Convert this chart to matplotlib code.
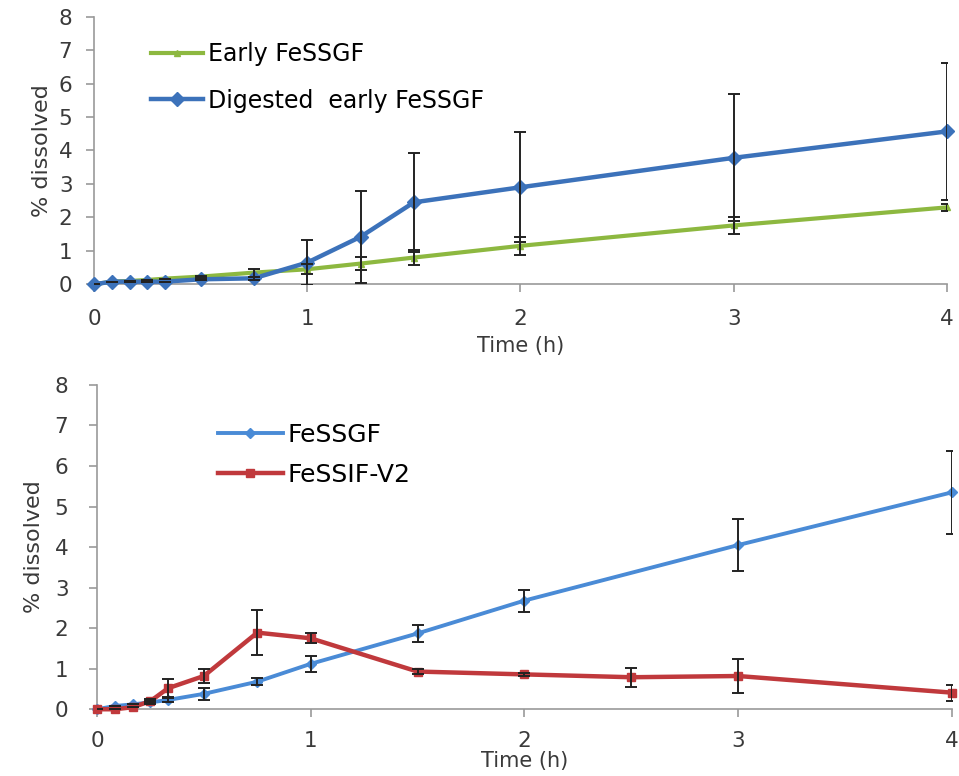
import matplotlib
matplotlib.use("Agg")
import matplotlib.pyplot as plt

plt.rcParams['font.family'] = ['DejaVu Sans']

# ---- Top panel data ----
t_top = [0, 0.083, 0.167, 0.25, 0.333, 0.5, 0.75, 1, 1.25, 1.5, 2, 3, 4]
early = [0, 0.08, 0.10, 0.13, 0.17, 0.23, 0.35, 0.45, 0.62, 0.80, 1.15, 1.76, 2.30]
early_err = [0, 0, 0, 0, 0, 0.02, 0.12, 0.15, 0.20, 0.22, 0.27, 0.25, 0.10]
digested = [0, 0.08, 0.08, 0.08, 0.08, 0.15, 0.18, 0.65, 1.42, 2.45, 2.90, 3.78, 4.57]
digested_err = [0, 0, 0, 0, 0, 0.02, 0.05, 0.68, 1.37, 1.48, 1.65, 1.90, 2.05]

# ---- Bottom panel data ----
t_gf = [0, 0.083, 0.167, 0.25, 0.333, 0.5, 0.75, 1, 1.5, 2, 3, 4]
fessgf = [0, 0.08, 0.12, 0.17, 0.23, 0.38, 0.68, 1.12, 1.87, 2.68, 4.05, 5.35]
fessgf_err = [0, 0, 0, 0.03, 0.05, 0.15, 0.08, 0.20, 0.20, 0.27, 0.65, 1.02]
t_if = [0, 0.083, 0.167, 0.25, 0.333, 0.5, 0.75, 1, 1.5, 2, 2.5, 3, 4]
fessif = [0, 0.0, 0.05, 0.20, 0.52, 0.82, 1.89, 1.75, 0.93, 0.86, 0.79, 0.82, 0.41]
fessif_err = [0, 0, 0, 0.05, 0.22, 0.17, 0.56, 0.12, 0.06, 0.03, 0.24, 0.43, 0.20]

xticks = [0, 1, 2, 3, 4]
yticks = [0, 1, 2, 3, 4, 5, 6, 7, 8]

fig = plt.figure(figsize=(9.59, 7.76), dpi=100)
ax1 = fig.add_axes([0.098, 0.6336, 0.8895, 0.345])
ax2 = fig.add_axes([0.1011, 0.086, 0.8915, 0.418])

green = '#8DB840'
blue1 = '#3C72BA'
blue2 = '#4A8BD6'
red = '#C0393C'
spine_c = '#999999'
txt_c = '#3a3a3a'

def style(ax, xpad, ypad, ylabpad):
    ax.set_xlim(0, 4)
    ax.set_ylim(0, 8)
    ax.set_xticks(xticks)
    ax.set_yticks(yticks)
    for s in ['top', 'right']:
        ax.spines[s].set_visible(False)
    for s in ['left', 'bottom']:
        ax.spines[s].set_color(spine_c)
        ax.spines[s].set_linewidth(1.2)
    ax.tick_params(axis='both', colors=spine_c, labelcolor=txt_c,
                   labelsize=15.5, length=5.5, width=1.2, direction='out')
    ax.tick_params(axis='x', pad=xpad)
    ax.tick_params(axis='y', pad=ypad)
    ax.set_ylabel('% dissolved', fontsize=16, color=txt_c, labelpad=ylabpad)

# Top panel
ax1.plot(t_top, early, color=green, lw=3.0, marker='^', ms=4,
         label='Early FeSSGF', clip_on=False, zorder=3)
ax1.errorbar(t_top, early, yerr=early_err, fmt='none', ecolor='#222222',
             elinewidth=1.4, capsize=4, capthick=1.4, zorder=4)
ax1.plot(t_top, digested, color=blue1, lw=3.2, marker='D', ms=7,
         label='Digested  early FeSSGF', clip_on=False, zorder=3)
ax1.errorbar(t_top, digested, yerr=digested_err, fmt='none', ecolor='#222222',
             elinewidth=1.4, capsize=4, capthick=1.4, zorder=4)
style(ax1, xpad=12, ypad=10, ylabpad=5)
ax1.set_xlabel('Time (h)', fontsize=15, color=txt_c, labelpad=5)
ax1.legend(loc='upper left', bbox_to_anchor=(0.045, 0.975), frameon=False,
           fontsize=17, handlelength=2.2, handletextpad=0.2,
           labelspacing=0.95, borderpad=0.3)

# Bottom panel
ax2.plot(t_gf, fessgf, color=blue2, lw=2.8, marker='D', ms=5,
         label='FeSSGF', clip_on=False, zorder=3)
ax2.errorbar(t_gf, fessgf, yerr=fessgf_err, fmt='none', ecolor='#222222',
             elinewidth=1.4, capsize=4, capthick=1.4, zorder=4)
ax2.plot(t_if, fessif, color=red, lw=3.2, marker='s', ms=5.5,
         label='FeSSIF-V2', clip_on=False, zorder=3)
ax2.errorbar(t_if, fessif, yerr=fessif_err, fmt='none', ecolor='#222222',
             elinewidth=1.4, capsize=4, capthick=1.4, zorder=4)
style(ax2, xpad=10, ypad=15, ylabpad=8)
ax2.set_xlabel('Time (h)', fontsize=15, color=txt_c, labelpad=0)
ax2.legend(loc='upper left', bbox_to_anchor=(0.118, 0.945), frameon=False,
           fontsize=18, handlelength=2.6, handletextpad=0.2,
           labelspacing=0.66, borderpad=0.3)

fig.savefig('out.png', dpi=100)
